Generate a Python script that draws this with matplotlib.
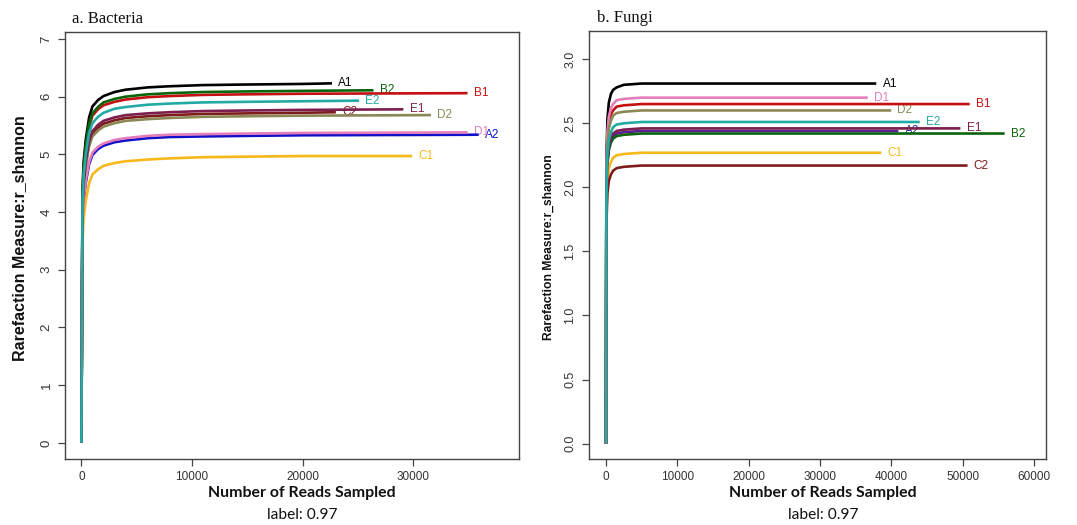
import matplotlib
matplotlib.use("Agg")
import matplotlib.pyplot as plt

# ---------------- data ----------------
# Bacteria panel
B_SAMPLES = ["A1", "A2", "B1", "B2", "C1", "C2", "D1", "D2", "E1", "E2"]
B_READS_GRID = [1, 100, 200, 400, 700, 1000, 1500, 2000, 3000, 4000, 6000,
                8000, 11000, 15000, 20000]
B_END = {"A1": 22650, "A2": 35900, "B1": 34900, "B2": 26400, "C1": 29900,
         "C2": 23000, "D1": 34900, "D2": 31600, "E1": 29100, "E2": 25100}
B_VALUES = {
    "A1": [0, 4.36, 4.86, 5.26, 5.64, 5.83, 5.94, 6.01, 6.08, 6.12, 6.16, 6.18, 6.20, 6.21, 6.22, 6.23],
    "A2": [0, 3.74, 4.17, 4.51, 4.83, 4.99, 5.09, 5.15, 5.21, 5.24, 5.28, 5.30, 5.31, 5.32, 5.33, 5.34],
    "B1": [0, 4.24, 4.73, 5.12, 5.48, 5.67, 5.78, 5.85, 5.91, 5.95, 5.99, 6.01, 6.03, 6.04, 6.05, 6.06],
    "B2": [0, 4.28, 4.77, 5.16, 5.53, 5.71, 5.82, 5.90, 5.96, 6.00, 6.04, 6.06, 6.08, 6.09, 6.10, 6.11],
    "C1": [0, 3.48, 3.88, 4.20, 4.50, 4.65, 4.74, 4.80, 4.85, 4.88, 4.91, 4.93, 4.95, 4.96, 4.97, 4.97],
    "C2": [0, 4.01, 4.47, 4.84, 5.19, 5.36, 5.46, 5.53, 5.59, 5.63, 5.66, 5.68, 5.70, 5.71, 5.72, 5.73],
    "D1": [0, 3.77, 4.20, 4.55, 4.87, 5.03, 5.13, 5.19, 5.25, 5.28, 5.32, 5.34, 5.35, 5.36, 5.37, 5.38],
    "D2": [0, 3.98, 4.43, 4.80, 5.14, 5.31, 5.41, 5.48, 5.54, 5.58, 5.61, 5.63, 5.65, 5.66, 5.67, 5.68],
    "E1": [0, 4.05, 4.51, 4.88, 5.23, 5.40, 5.51, 5.58, 5.64, 5.68, 5.71, 5.73, 5.75, 5.76, 5.77, 5.78],
    "E2": [0, 4.15, 4.63, 5.01, 5.37, 5.54, 5.65, 5.72, 5.79, 5.82, 5.86, 5.88, 5.90, 5.91, 5.92, 5.93],
}
B_YTICKS = [0, 1, 2, 3, 4, 5, 6, 7]
B_XTICKS = [0, 10000, 20000, 30000]

# Fungi panel
F_SAMPLES = ["A1", "A2", "B1", "B2", "C1", "C2", "D1", "D2", "E1", "E2"]
F_READS_GRID = [1, 50, 100, 200, 400, 700, 1000, 1500, 2500, 5000, 10000]
F_END = {"A1": 37900, "A2": 41000, "B1": 51000, "B2": 55900, "C1": 38600,
         "C2": 50700, "D1": 36700, "D2": 40000, "E1": 49700, "E2": 44000}
F_VALUES = {
    "A1": [0, 2.02, 2.30, 2.53, 2.66, 2.73, 2.76, 2.78, 2.80, 2.81, 2.81, 2.81],
    "A2": [0, 1.76, 2.00, 2.20, 2.31, 2.37, 2.40, 2.42, 2.43, 2.44, 2.44, 2.44],
    "B1": [0, 1.91, 2.17, 2.39, 2.50, 2.57, 2.60, 2.63, 2.64, 2.65, 2.65, 2.65],
    "B2": [0, 1.74, 1.98, 2.18, 2.29, 2.35, 2.38, 2.40, 2.41, 2.42, 2.42, 2.42],
    "C1": [0, 1.63, 1.86, 2.04, 2.15, 2.20, 2.23, 2.25, 2.26, 2.27, 2.27, 2.27],
    "C2": [0, 1.56, 1.78, 1.95, 2.05, 2.10, 2.13, 2.15, 2.16, 2.17, 2.17, 2.17],
    "D1": [0, 1.94, 2.21, 2.43, 2.55, 2.62, 2.65, 2.68, 2.69, 2.70, 2.70, 2.70],
    "D2": [0, 1.87, 2.13, 2.34, 2.46, 2.52, 2.56, 2.58, 2.59, 2.60, 2.60, 2.60],
    "E1": [0, 1.77, 2.02, 2.21, 2.32, 2.39, 2.42, 2.44, 2.45, 2.46, 2.46, 2.46],
    "E2": [0, 1.81, 2.06, 2.26, 2.37, 2.43, 2.47, 2.49, 2.50, 2.51, 2.51, 2.51],
}
F_YTICKS = [0.0, 0.5, 1.0, 1.5, 2.0, 2.5, 3.0]
F_XTICKS = [0, 10000, 20000, 30000, 40000, 50000, 60000]

# ---------------- styles ----------------
B_COLORS = {"A1": "#000000", "A2": "#1010C8", "B1": "#C41010", "B2": "#0A640A",
            "C1": "#F7B81A", "C2": "#7E1C1C", "D1": "#E47DBA", "D2": "#8C8856",
            "E1": "#7C1F4E", "E2": "#22AAA4"}
F_COLORS = {"A1": "#000000", "A2": "#5A1E96", "B1": "#C41010", "B2": "#0A640A",
            "C1": "#F7B81A", "C2": "#7E1C1C", "D1": "#E47DBA", "D2": "#8C8856",
            "E1": "#7C1F4E", "E2": "#22AAA4"}
F_LABEL_COLORS = dict(F_COLORS)
F_LABEL_COLORS["A2"] = "#2E2E9A"

W, H = 1077, 525
fig = plt.figure(figsize=(W / 100, H / 100), dpi=100)


def px_ax(x0, y0, x1, y1):
    return fig.add_axes([x0 / W, 1 - y1 / H, (x1 - x0) / W, (y1 - y0) / H])


def style_axis(ax, yticks, xticks, yfmt, ysize):
    for s in ax.spines.values():
        s.set_color("#444444")
        s.set_linewidth(1.0)
    ax.set_yticks(yticks)
    ax.set_yticklabels([yfmt(v) for v in yticks], rotation=90, va="center",
                       fontsize=ysize, family="Liberation Sans", color="#333333")
    ax.set_xticks(xticks)
    ax.set_xticklabels([str(v) for v in xticks], fontsize=8.5,
                       family="Liberation Sans", color="#333333")
    ax.tick_params(direction="out", length=5, width=0.9, color="#444444",
                   top=False, right=False)
    ax.tick_params(axis="y", pad=4)
    ax.tick_params(axis="x", pad=4)


def draw_panel(ax, samples, grid, ends, values, colors, lcolors):
    for s in samples:
        xs = grid + [ends[s]]
        ys = values[s]
        ax.plot(xs, ys, color=colors[s], lw=1.9, solid_capstyle="butt",
                solid_joinstyle="round", zorder=3)
        ax.annotate(s, (xs[-1], ys[-1]), xytext=(4.5, 0), textcoords="offset points",
                    ha="left", va="center", fontsize=8.5, family="Liberation Sans",
                    color=lcolors[s], zorder=2, annotation_clip=False)


# left panel
axL = px_ax(65, 32, 519, 459)
draw_panel(axL, B_SAMPLES, B_READS_GRID, B_END, B_VALUES, B_COLORS, B_COLORS)
axL.set_xlim(-1480, 39550)
axL.set_ylim(-0.28, 7.12)
style_axis(axL, B_YTICKS, B_XTICKS, lambda v: str(int(v)), 9.5)

# right panel
axR = px_ax(589, 31, 1046, 459)
draw_panel(axR, F_SAMPLES, F_READS_GRID, F_END, F_VALUES, F_COLORS, F_LABEL_COLORS)
axR.set_xlim(-2380, 61700)
axR.set_ylim(-0.12, 3.22)
style_axis(axR, F_YTICKS, F_XTICKS, lambda v: f"{v:.1f}", 9)

# titles
fig.text(72 / W, 1 - 19 / H, "a. Bacteria", family="Liberation Serif", fontsize=12,
         ha="left", va="center", color="#111111")
fig.text(597 / W, 1 - 18 / H, "b. Fungi", family="Liberation Serif", fontsize=12,
         ha="left", va="center", color="#111111")

# y labels
fig.text(19.5 / W, 1 - 238 / H, "Rarefaction Measure:r_shannon", rotation=90,
         family="Liberation Sans", fontweight="bold", fontsize=11.5,
         ha="center", va="center", color="#111111")
fig.text(548.5 / W, 1 - 247 / H, "Rarefaction Measure:r_shannon", rotation=90,
         family="Liberation Sans", fontweight="bold", fontsize=8.7,
         ha="center", va="center", color="#111111")

# x labels
for cx in (302, 823):
    fig.text(cx / W, 1 - 493 / H, "Number of Reads Sampled", family="Lato",
             fontweight="bold", fontsize=11.4, ha="center", va="center",
             color="#111111")
    fig.text(cx / W, 1 - 515 / H, "label: 0.97", family="Lato", fontsize=11.2,
             ha="center", va="center", color="#111111")

fig.savefig("out.png", dpi=100)
